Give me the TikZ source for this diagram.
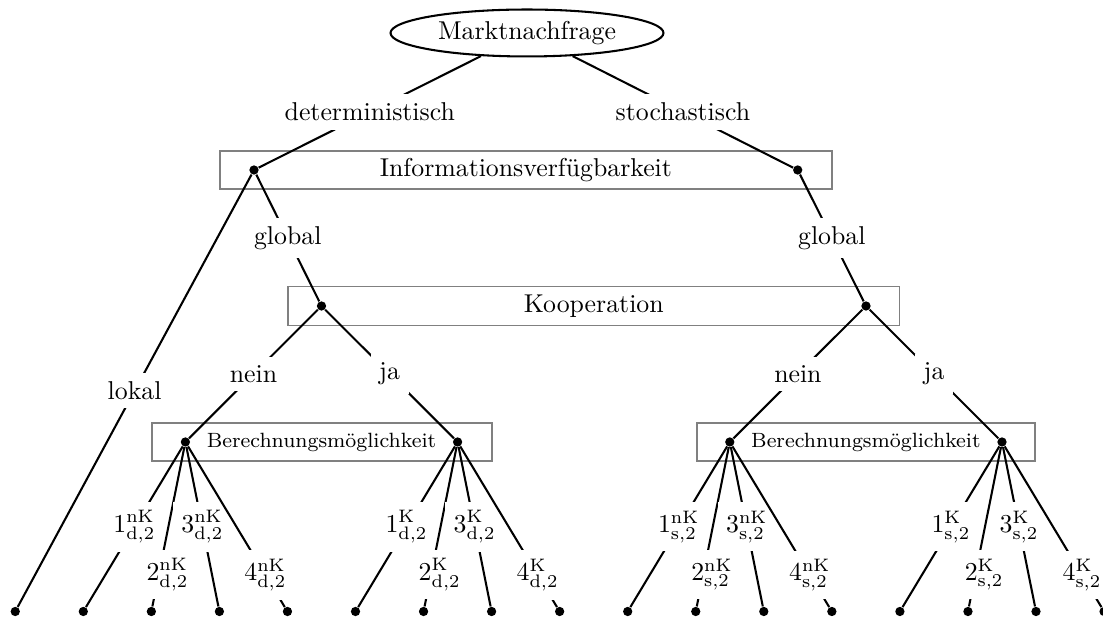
\documentclass[tikz,border=0pt]{standalone}
\usepackage{fontspec}
\usetikzlibrary{shapes.geometric,calc}

\tikzset{
  dot/.style={circle, fill=black, inner sep=0pt, minimum size=3.6pt},
  lab/.style={fill=white},
  edge/.style={line width=0.8pt, black},
  grp/.style={draw=gray, line width=0.7pt},
  rootnode/.style={ellipse, draw, line width=0.8pt, inner sep=0pt,
                   minimum width=105.8pt, minimum height=18.2pt}
}

\begin{document}
\begin{tikzpicture}[x=0.3876pt, y=-0.3876pt]
\useasboundingbox (0,0) rectangle (1103,618);

% decision nodes
\node[rootnode] (root) at (527,33) {Marktnachfrage};
\node[dot] (i1) at (254,170) {};
\node[dot] (i2) at (797.7,170) {};
\node[dot] (k1) at (321.5,306) {};
\node[dot] (k2) at (866,306) {};
\node[dot] (b1) at (185.4,442) {};
\node[dot] (b2) at (457.6,442) {};
\node[dot] (b3) at (729.8,442) {};
\node[dot] (b4) at (1002,442) {};
\foreach \k in {0,...,16}
  \node[dot] (l\k) at ({15.25+68.05*\k},611.5) {};

% grey frames around the nodes of one decision level
\draw[grp] ($(i1)+(-34,-19.2)$) rectangle ($(i2)+(34,19.2)$);
\node (infotxt) at ($(i1)!.5!(i2)$) {Informationsverfügbarkeit};
\draw[grp] ($(k1)+(-33.4,-19.5)$) rectangle ($(k2)+(33.4,19.5)$);
\node (kooptxt) at ($(k1)!.5!(k2)$) {Kooperation};
\draw[grp] ($(b1)+(-33.3,-19.2)$) rectangle ($(b2)+(34.2,19.2)$);
\node[font=\footnotesize] (bertxtl) at ($(b1)!.5!(b2)$) {Berechnungsmöglichkeit};
\draw[grp] ($(b3)+(-33,-19.2)$) rectangle ($(b4)+(33,19.2)$);
\node[font=\footnotesize] (bertxtr) at ($(b3)!.5!(b4)$) {Berechnungsmöglichkeit};

% upper branches
\draw[edge] (root) -- node[lab] (tdet) {deterministisch} (i1);
\draw[edge] (root) -- node[lab] (tsto) {stochastisch} (i2);
\draw[edge] (i1) -- node[lab] (tlok) {lokal} (l0);
\draw[edge] (i1) -- node[lab] (tglo1) {global} (k1);
\draw[edge] (i2) -- node[lab] (tglo2) {global} (k2);
\draw[edge] (k1) -- node[lab] (tnein1) {nein} (b1);
\draw[edge] (k1) -- node[lab] (tja1) {ja} (b2);
\draw[edge] (k2) -- node[lab] (tnein2) {nein} (b3);
\draw[edge] (k2) -- node[lab] (tja2) {ja} (b4);

% leaf branches with their labels, drawn one after the other
\foreach \p/\f/\kind/\dem in {b1/1/nK/d, b2/5/K/d, b3/9/nK/s, b4/13/K/s}{
  \pgfmathtruncatemacro\la{\f}
  \pgfmathtruncatemacro\lb{\f+1}
  \pgfmathtruncatemacro\lc{\f+2}
  \pgfmathtruncatemacro\ld{\f+3}
  \draw[edge] (\p) -- node[lab] (s1\p) {$1^{\mathrm{\kind}}_{\mathrm{\dem},2}$} (l\la);
  \draw[edge] (\p) -- node[lab, pos=.8, xshift=3.4pt] (s2\p) {$2^{\mathrm{\kind}}_{\mathrm{\dem},2}$} (l\lb);
  \draw[edge] (\p) -- node[lab] (s3\p) {$3^{\mathrm{\kind}}_{\mathrm{\dem},2}$} (l\lc);
  \draw[edge] (\p) -- node[lab, pos=.8] (s4\p) {$4^{\mathrm{\kind}}_{\mathrm{\dem},2}$} (l\ld);
}
\end{tikzpicture}
\end{document}
